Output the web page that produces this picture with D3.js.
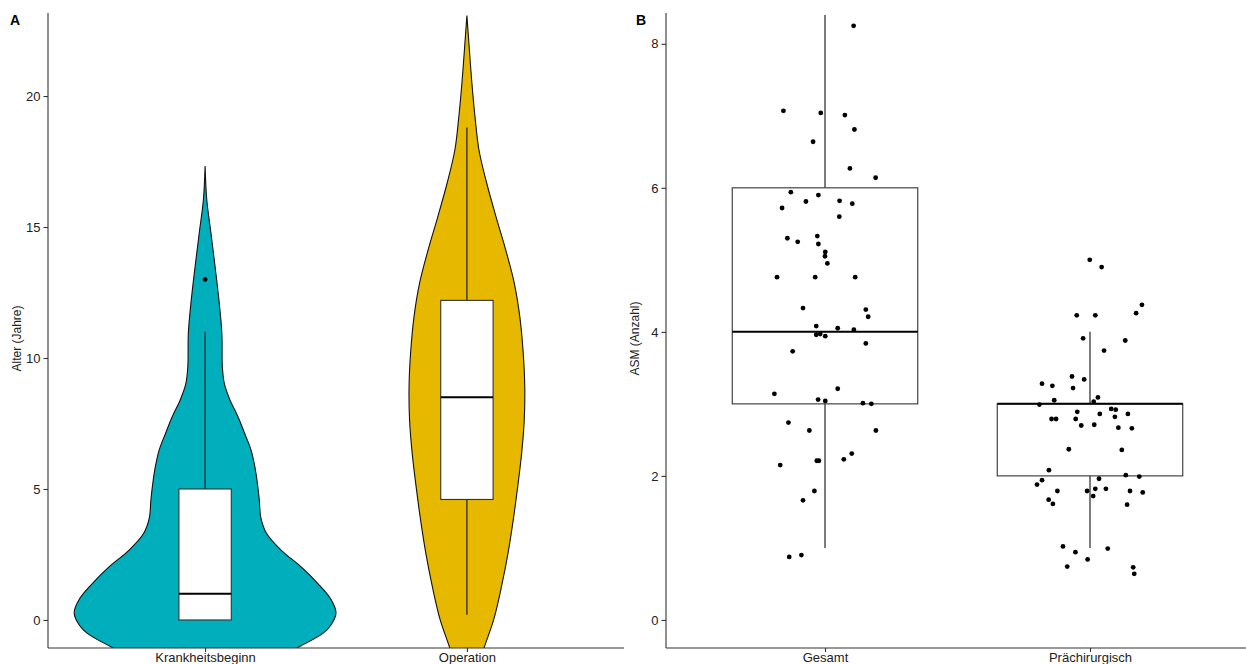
<!DOCTYPE html>
<html>
<head>
<meta charset="utf-8">
<script src="https://cdn.jsdelivr.net/npm/d3@7"></script>
<style>
  html, body { margin: 0; padding: 0; background: #fff; }
  svg { display: block; font-family: "Liberation Sans", Arial, sans-serif; }
</style>
</head>
<body>
<svg id="chart" width="1246" height="664"></svg>
<script>
// ---------------- DATA ----------------
// Panel A
const catsA = ["Krankheitsbeginn", "Operation"];
const colorsA = ["#00AFBB", "#E7B800"];
const ticksA = [0, 5, 10, 15, 20];
// violin outlines: value and half-width (in category units)
const violinK_val = [17.33, 16.03, 14.8, 13.5, 12.2, 10.95, 9.66, 9.0, 8.4, 7.75, 7.1, 6.5, 5.85, 5.2, 4.58, 3.9, 3.3, 2.67, 2.0, 1.4, 0.8, 0.27, -0.2, -0.5, -1.07, -1.6];
const violinK_hw  = [0, 0.0065, 0.022, 0.038, 0.053, 0.064, 0.066, 0.074, 0.095, 0.126, 0.152, 0.175, 0.190, 0.200, 0.207, 0.213, 0.235, 0.290, 0.370, 0.430, 0.480, 0.500, 0.480, 0.451, 0.351, 0.25];
const violinO_val = [23.07, 21.76, 20.5, 19.2, 17.94, 16.7, 15.4, 14.1, 12.85, 11.58, 10.2, 8.9, 7.63, 6.36, 5.09, 3.82, 2.55, 1.27, 0, -1.08, -1.6];
const violinO_hw  = [0, 0.0095, 0.019, 0.031, 0.046, 0.075, 0.111, 0.149, 0.181, 0.202, 0.215, 0.221, 0.219, 0.209, 0.194, 0.177, 0.157, 0.132, 0.102, 0.065, 0.05];
// box stats: [lower whisker, q1, median, q3, upper whisker]
const boxK = [0, 0, 1, 5, 11];
const boxO = [0.2, 4.6, 8.5, 12.2, 18.8];
const outliersK = [13.0];
const outliersO = [];

// Panel B
const catsB = ["Gesamt", "Prächirurgisch"];
const ticksB = [0, 2, 4, 6, 8];
const boxG = [1, 3, 4, 6, 8.4];
const boxP = [1, 2, 3, 3, 4];
const gesamtVal = [8.25, 7.07, 7.04, 7.01, 6.81, 6.64, 6.27, 6.14, 5.94, 5.90, 5.81, 5.82, 5.78, 5.72, 5.60, 5.30, 5.33, 5.25, 5.22, 5.11, 5.05, 4.95, 4.76, 4.76, 4.76, 4.33, 4.31, 4.21, 4.08, 4.05, 4.03, 3.96, 3.97, 3.94, 3.84, 3.73, 3.21, 3.14, 3.06, 3.04, 3.01, 3.0, 2.74, 2.63, 2.63, 2.31, 2.23, 2.21, 2.21, 2.15, 1.79, 1.66, 0.90, 0.875];
const gesamtJit = [0.108, -0.157, -0.016, 0.075, 0.111, -0.045, 0.094, 0.191, -0.129, -0.025, -0.072, 0.055, 0.103, -0.162, 0.054, -0.142, -0.029, -0.103, -0.025, 0.001, 0.000, 0.009, -0.181, -0.037, 0.114, -0.083, 0.154, 0.163, -0.033, 0.048, 0.109, -0.033, -0.018, 0.001, 0.154, -0.122, 0.048, -0.191, -0.026, 0.001, 0.143, 0.175, -0.138, -0.059, 0.192, 0.101, 0.071, -0.031, -0.023, -0.169, -0.040, -0.083, -0.089, -0.135];
const praeVal = [5.0, 4.90, 4.375, 4.26, 4.23, 4.23, 3.91, 3.88, 3.74, 3.38, 3.34, 3.28, 3.25, 3.22, 3.09, 3.05, 3.03, 2.99, 2.89, 2.93, 2.92, 2.86, 2.82, 2.86, 2.79, 2.79, 2.79, 2.70, 2.71, 2.67, 2.66, 2.37, 2.36, 2.08, 2.01, 1.99, 1.96, 1.94, 1.88, 1.79, 1.79, 1.82, 1.82, 1.79, 1.77, 1.72, 1.67, 1.61, 1.60, 1.02, 0.94, 0.99, 0.84, 0.74, 0.73, 0.64];
const praeJit = [-0.001, 0.044, 0.196, 0.174, -0.050, 0.020, -0.026, 0.133, 0.053, -0.068, -0.022, -0.181, -0.142, -0.064, 0.030, -0.135, 0.014, -0.191, -0.048, 0.080, 0.097, 0.037, 0.094, 0.143, -0.145, -0.128, -0.054, -0.033, 0.016, 0.107, 0.158, -0.080, 0.120, -0.155, 0.135, 0.186, 0.034, -0.181, -0.200, -0.123, -0.011, 0.020, 0.060, 0.151, 0.199, 0.012, -0.156, -0.140, 0.140, -0.102, -0.055, 0.067, -0.009, -0.086, 0.163, 0.167];

// ---------------- LAYOUT ----------------
const svg = d3.select("#chart");
svg.append("rect").attr("width", 1246).attr("height", 664).attr("fill", "#fff");

const axisColor = "#333";
const textColor = "#222";

function drawAxes(g, x, y, ticks, panel, yTitle, tag, tagX) {
  const gy = g.append("g").attr("transform", `translate(${panel.left},0)`)
    .call(d3.axisLeft(y).tickValues(ticks).tickSize(4.5).tickPadding(3).tickFormat(d3.format("d")));
  gy.select(".domain").attr("d", `M0,${panel.top}V${panel.bottom}`).attr("stroke", axisColor).attr("stroke-width", 1.1);
  gy.selectAll(".tick line").attr("stroke", axisColor).attr("stroke-width", 1.1);
  gy.selectAll(".tick text").attr("fill", textColor).style("font-size", "13px").style("font-family", "Liberation Sans, Arial, sans-serif");

  const gx = g.append("g").attr("transform", `translate(0,${panel.bottom})`)
    .call(d3.axisBottom(x).tickSize(4).tickPadding(1));
  gx.select(".domain").attr("d", `M${panel.left},0H${panel.right}`).attr("stroke", axisColor).attr("stroke-width", 1.1);
  gx.selectAll(".tick line").attr("stroke", axisColor).attr("stroke-width", 1.1);
  gx.selectAll(".tick text").attr("fill", textColor).style("font-size", "13px").style("font-family", "Liberation Sans, Arial, sans-serif");

  g.append("text")
    .attr("transform", `translate(${panel.left - 31},${(panel.top + panel.bottom) / 2 + 8}) rotate(-90)`)
    .attr("text-anchor", "middle")
    .attr("dy", "0.35em")
    .style("font-size", "12px")
    .attr("fill", textColor)
    .text(yTitle);

  g.append("text")
    .attr("x", tagX).attr("y", 25)
    .style("font-size", "14px").style("font-weight", "bold")
    .attr("fill", "#000")
    .text(tag);
}

function drawBox(g, x, y, cat, stats, widthUnits, step, medianWidth) {
  const cx = x(cat);
  const w = widthUnits * step;
  const [lo, q1, med, q3, hi] = stats;
  g.append("line").attr("x1", cx).attr("x2", cx).attr("y1", y(q3)).attr("y2", y(hi))
    .attr("stroke", "#111").attr("stroke-width", 1.1);
  g.append("line").attr("x1", cx).attr("x2", cx).attr("y1", y(q1)).attr("y2", y(lo))
    .attr("stroke", "#111").attr("stroke-width", 1.1);
  g.append("rect").attr("x", cx - w / 2).attr("y", y(q3)).attr("width", w).attr("height", y(q1) - y(q3))
    .attr("fill", "#fff").attr("stroke", "#333").attr("stroke-width", 1.1);
  g.append("line").attr("x1", cx - w / 2).attr("x2", cx + w / 2).attr("y1", y(med)).attr("y2", y(med))
    .attr("stroke", "#000").attr("stroke-width", medianWidth);
}

// ---------------- PANEL A ----------------
const pA = { left: 48, right: 624, top: 13, bottom: 648 };
const xA = d3.scalePoint().domain(catsA).range([pA.left, pA.right]).padding(0.6);
const yA = d3.scaleLinear().domain([-1.07, 23.17]).range([pA.bottom, pA.top]);
const stepA = xA.step();

const gA = svg.append("g");
svg.append("clipPath").attr("id", "clipA").append("rect")
  .attr("x", pA.left).attr("y", pA.top - 5).attr("width", pA.right - pA.left).attr("height", pA.bottom - pA.top + 5);

const plotA = gA.append("g").attr("clip-path", "url(#clipA)");
const violins = [
  { cat: catsA[0], vals: violinK_val, hw: violinK_hw, color: colorsA[0] },
  { cat: catsA[1], vals: violinO_val, hw: violinO_hw, color: colorsA[1] }
];
violins.forEach(v => {
  const pts = v.vals.map((d, i) => ({ v: d, h: v.hw[i] }));
  const area = d3.area()
    .y(d => yA(d.v))
    .x0(d => xA(v.cat) - d.h * stepA)
    .x1(d => xA(v.cat) + d.h * stepA)
    .curve(d3.curveCatmullRom.alpha(0.5));
  plotA.append("path").attr("d", area(pts))
    .attr("fill", v.color).attr("stroke", "#111").attr("stroke-width", 1.1);
});
drawBox(plotA, xA, yA, catsA[0], boxK, 0.2, stepA, 2);
drawBox(plotA, xA, yA, catsA[1], boxO, 0.2, stepA, 2);
plotA.selectAll(".outK").data(outliersK).enter().append("circle")
  .attr("cx", xA(catsA[0])).attr("cy", d => yA(d)).attr("r", 2.4).attr("fill", "#000");
plotA.selectAll(".outO").data(outliersO).enter().append("circle")
  .attr("cx", xA(catsA[1])).attr("cy", d => yA(d)).attr("r", 2.4).attr("fill", "#000");

drawAxes(gA, xA, yA, ticksA, pA, "Alter (Jahre)", "A", 10);

// ---------------- PANEL B ----------------
const pB = { left: 666, right: 1249, top: 13, bottom: 648 };
const xB = d3.scalePoint().domain(catsB).range([pB.left, pB.right]).padding(0.6);
const yB = d3.scaleLinear().domain([-0.39, 8.4]).range([pB.bottom, 15]);
const stepB = xB.step();

const gB = svg.append("g");
svg.append("clipPath").attr("id", "clipB").append("rect")
  .attr("x", pB.left).attr("y", pB.top).attr("width", pB.right - pB.left).attr("height", pB.bottom - pB.top);
const plotB = gB.append("g").attr("clip-path", "url(#clipB)");

drawBox(plotB, xB, yB, catsB[0], boxG, 0.7, stepB, 2);
drawBox(plotB, xB, yB, catsB[1], boxP, 0.7, stepB, 2);

const ptsG = gesamtVal.map((v, i) => ({ cat: catsB[0], v, j: gesamtJit[i] }));
const ptsP = praeVal.map((v, i) => ({ cat: catsB[1], v, j: praeJit[i] }));
plotB.selectAll(".pt").data(ptsG.concat(ptsP)).enter().append("circle")
  .attr("cx", d => xB(d.cat) + d.j * stepB)
  .attr("cy", d => yB(d.v))
  .attr("r", 2.4)
  .attr("fill", "#000");

drawAxes(gB, xB, yB, ticksB, pB, "ASM (Anzahl)", "B", 636);
</script>
</body>
</html>
